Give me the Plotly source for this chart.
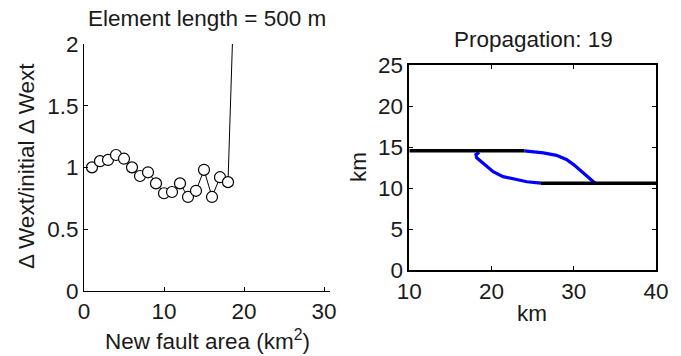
import plotly.graph_objects as go

# Energy ratio versus new fault area
area = list(range(1, 20))
ratio = [1.00, 1.05, 1.06, 1.10, 1.07, 1.00, 0.93, 0.96, 0.87, 0.79,
         0.80, 0.87, 0.76, 0.81, 0.98, 0.76, 0.92, 0.88, 2.92]

# Fault traces (km)
seg1_x = [10, 24]
seg1_y = [14.55, 14.55]
seg2_x = [26, 40]
seg2_y = [10.6, 10.6]
upper_x = [24.0, 26.3, 27.9, 29.1, 29.95, 31.2, 32.4, 32.6]
upper_y = [14.55, 14.3, 14.0, 13.5, 12.9, 11.8, 10.75, 10.6]
lower_x = [18.5, 18.1, 18.2, 19.0, 20.2, 21.4, 23.1, 24.3, 26.0]
lower_y = [14.35, 14.1, 13.7, 13.0, 12.0, 11.4, 11.0, 10.78, 10.6]

FONT = "Liberation Sans, Arial, sans-serif"
TXT = "#1a1a1a"
FS = 22.5

fig = go.Figure()

fig.add_trace(go.Scatter(
    x=area, y=ratio, mode="lines+markers",
    line=dict(color="black", width=1),
    marker=dict(size=11, color="white", line=dict(color="black", width=1.2)),
    xaxis="x", yaxis="y", showlegend=False))

for xs, ys in [(upper_x, upper_y), (lower_x, lower_y)]:
    fig.add_trace(go.Scatter(
        x=xs, y=ys, mode="lines", line=dict(color="#0000ff", width=3.2),
        xaxis="x2", yaxis="y2", showlegend=False))
for xs, ys in [(seg1_x, seg1_y), (seg2_x, seg2_y)]:
    fig.add_trace(go.Scatter(
        x=xs, y=ys, mode="lines", line=dict(color="black", width=3.5),
        xaxis="x2", yaxis="y2", showlegend=False))

axis_common = dict(
    showgrid=False, zeroline=False, showline=True, linecolor="black",
    linewidth=1, ticks="inside", ticklen=4, tickcolor="black",
    automargin=False,
    tickfont=dict(family=FONT, size=FS, color=TXT))

fig.update_layout(
    width=681, height=356,
    margin=dict(l=0, r=0, t=0, b=0),
    paper_bgcolor="white", plot_bgcolor="white",
    xaxis=dict(domain=[84/681, 330/681], range=[0, 30.75],
               tickvals=[0, 10, 20, 30], anchor="y", **axis_common),
    yaxis=dict(domain=[1-290.7/356, 1-44/356], range=[0, 2],
               tickvals=[0, 0.5, 1, 1.5, 2], ticktext=["0", "0.5", "1", "1.5", "2"],
               anchor="x", **axis_common),
    xaxis2=dict(domain=[409.3/681, 656/681], range=[10, 40],
                tickvals=[10, 20, 30, 40], anchor="y2", mirror="ticks",
                **{**axis_common, "linewidth": 1.5}),
    yaxis2=dict(domain=[1-270/356, 1-65.3/356], range=[0, 25],
                tickvals=[0, 5, 10, 15, 20, 25], anchor="x2", mirror="ticks",
                **{**axis_common, "linewidth": 1.5}),
)

def label(text, x, y, angle=0):
    fig.add_annotation(text=text, x=x/681, y=1-y/356, xref="paper", yref="paper",
                       showarrow=False, textangle=angle,
                       font=dict(family=FONT, size=FS, color=TXT),
                       xanchor="center", yanchor="middle")

label("Element length = 500 m", 207, 18)
label("Propagation: 19", 533, 39)
label("New fault area (km<sup>2</sup>)", 207.5, 340)
label("Δ Wext/initial Δ Wext", 27, 166, -90)
label("km", 358, 167, -90)
label("km", 532, 313)

fig.write_html("out.html")
